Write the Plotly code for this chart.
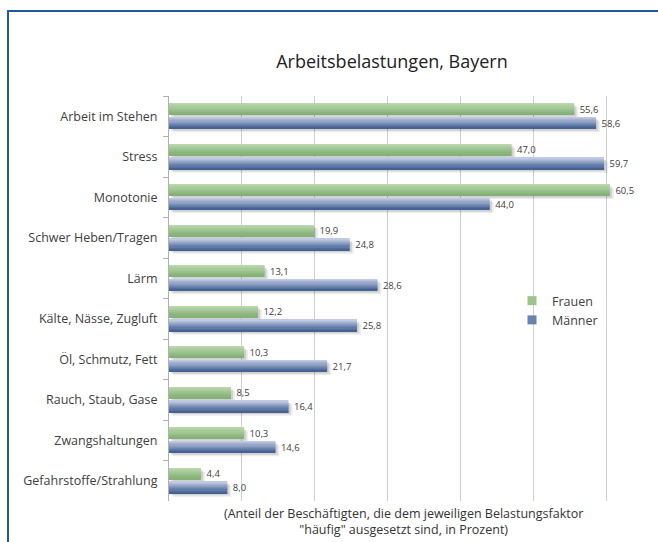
import plotly.graph_objects as go

categories = ["Arbeit im Stehen", "Stress", "Monotonie", "Schwer Heben/Tragen", "Lärm",
              "Kälte, Nässe, Zugluft", "Öl, Schmutz, Fett", "Rauch, Staub, Gase",
              "Zwangshaltungen", "Gefahrstoffe/Strahlung"]
frauen = [55.6, 47.0, 60.5, 19.9, 13.1, 12.2, 10.3, 8.5, 10.3, 4.4]
maenner = [58.6, 59.7, 44.0, 24.8, 28.6, 25.8, 21.7, 16.4, 14.6, 8.0]
series_names = ["Frauen", "Männer"]
title_text = "Arbeitsbelastungen, Bayern"
note_text = "(Anteil der Beschäftigten, die dem jeweiligen Belastungsfaktor<br>\"häufig\" ausgesetzt sind, in Prozent)"

FONT = "Open Sans"

def fmt(v):
    return " " + f"{v:.1f}".replace(".", ",")

def lerp(c1, c2, t):
    return "rgb(%d,%d,%d)" % tuple(round(a + (b - a) * t) for a, b in zip(c1, c2))

specs = [
    (frauen, -0.31, 0.27, (186, 215, 174), (132, 178, 118), "#9cc48d"),
    (maenner, 0.03, 0.28, (192, 202, 227), (68, 98, 148), "#6a82b0"),
]

fig = go.Figure()
N = 10
for (vals, off, wid, ctop, cbot, legc), name in zip(specs, series_names):
    # shadow layers
    for dy, b, a in [(0.085, 0.55, 0.07), (0.05, 0.3, 0.12)]:
        fig.add_trace(go.Bar(
            x=vals, y=categories, orientation="h", base=b,
            offset=off + dy, width=[wid] * len(vals),
            marker=dict(color=f"rgba(0,0,0,{a})", line=dict(width=0)),
            showlegend=False, hoverinfo="skip"))
    # gradient strips
    for i in range(N):
        fig.add_trace(go.Bar(
            x=vals, y=categories, orientation="h",
            offset=off + wid * i / N, width=[wid / N + 0.004] * len(vals),
            marker=dict(color=lerp(ctop, cbot, i / (N - 1)), line=dict(width=0)),
            showlegend=False, hoverinfo="skip"))
    # labels
    fig.add_trace(go.Bar(
        x=vals, y=categories, orientation="h",
        offset=off, width=[wid] * len(vals),
        marker=dict(color="rgba(0,0,0,0)", line=dict(width=0)),
        text=[fmt(v) for v in vals], textposition="outside", cliponaxis=False,
        constraintext="none",
        textfont=dict(family=FONT, size=9.5, color="#404040"),
        showlegend=False, hoverinfo="skip"))

for (vals, off, wid, ctop, cbot, legc), name in zip(specs, series_names):
    fig.add_trace(go.Scatter(x=[None], y=[None], mode="markers", name=name,
                             marker=dict(symbol="square", size=9, color=legc),
                             hoverinfo="skip"))

fig.update_layout(
    width=658, height=542,
    margin=dict(l=169, r=0, t=96, b=41, autoexpand=False),
    paper_bgcolor="white", plot_bgcolor="white",
    barmode="overlay",
    font=dict(family=FONT, size=12, color="#404040"),
    title=dict(text=title_text, x=392 / 658, xref="container", xanchor="center",
               y=1 - 62 / 542, yref="container", yanchor="middle",
               font=dict(family=FONT, size=18, color="#222222")),
    xaxis=dict(range=[0, 67.1], dtick=10, showgrid=True, gridcolor="#cfcfcf", gridwidth=1,
               showticklabels=False, zeroline=False, showline=False, fixedrange=True,
               automargin=False),
    yaxis=dict(type="category", categoryorder="array", categoryarray=categories,
               autorange="reversed", showline=True, linecolor="#b0b0b0", linewidth=1,
               ticks="outside", tickson="boundaries", ticklen=5, tickcolor="#b0b0b0",
               showgrid=False, tickfont=dict(family=FONT, size=12.5, color="#404040"),
               ticklabelstandoff=8, automargin=False, fixedrange=True),
    legend=dict(x=(512 - 169) / 489, y=(501 - 286) / 405, xanchor="left", yanchor="top",
                bgcolor="rgba(0,0,0,0)", font=dict(family=FONT, size=12.5, color="#404040"),
                itemwidth=30, tracegroupgap=0),
    showlegend=True,
    annotations=[dict(text=note_text, xref="paper", yref="paper",
                      x=(403 - 169) / 489, y=(501 - 503) / 405, xanchor="center", yanchor="top",
                      showarrow=False, align="center",
                      font=dict(family=FONT, size=12.5, color="#333333"))],
    shapes=[dict(type="rect", xref="paper", yref="paper",
                 x0=(8 - 169) / 489, x1=1.2, y0=-0.3, y1=(501 - 11) / 405,
                 line=dict(color="#1f5b99", width=2), fillcolor="rgba(0,0,0,0)", layer="above")],
)

fig.write_html("out.html", config={"displayModeBar": False},
               post_script="document.body.style.margin='0';document.body.style.overflow='hidden';")
